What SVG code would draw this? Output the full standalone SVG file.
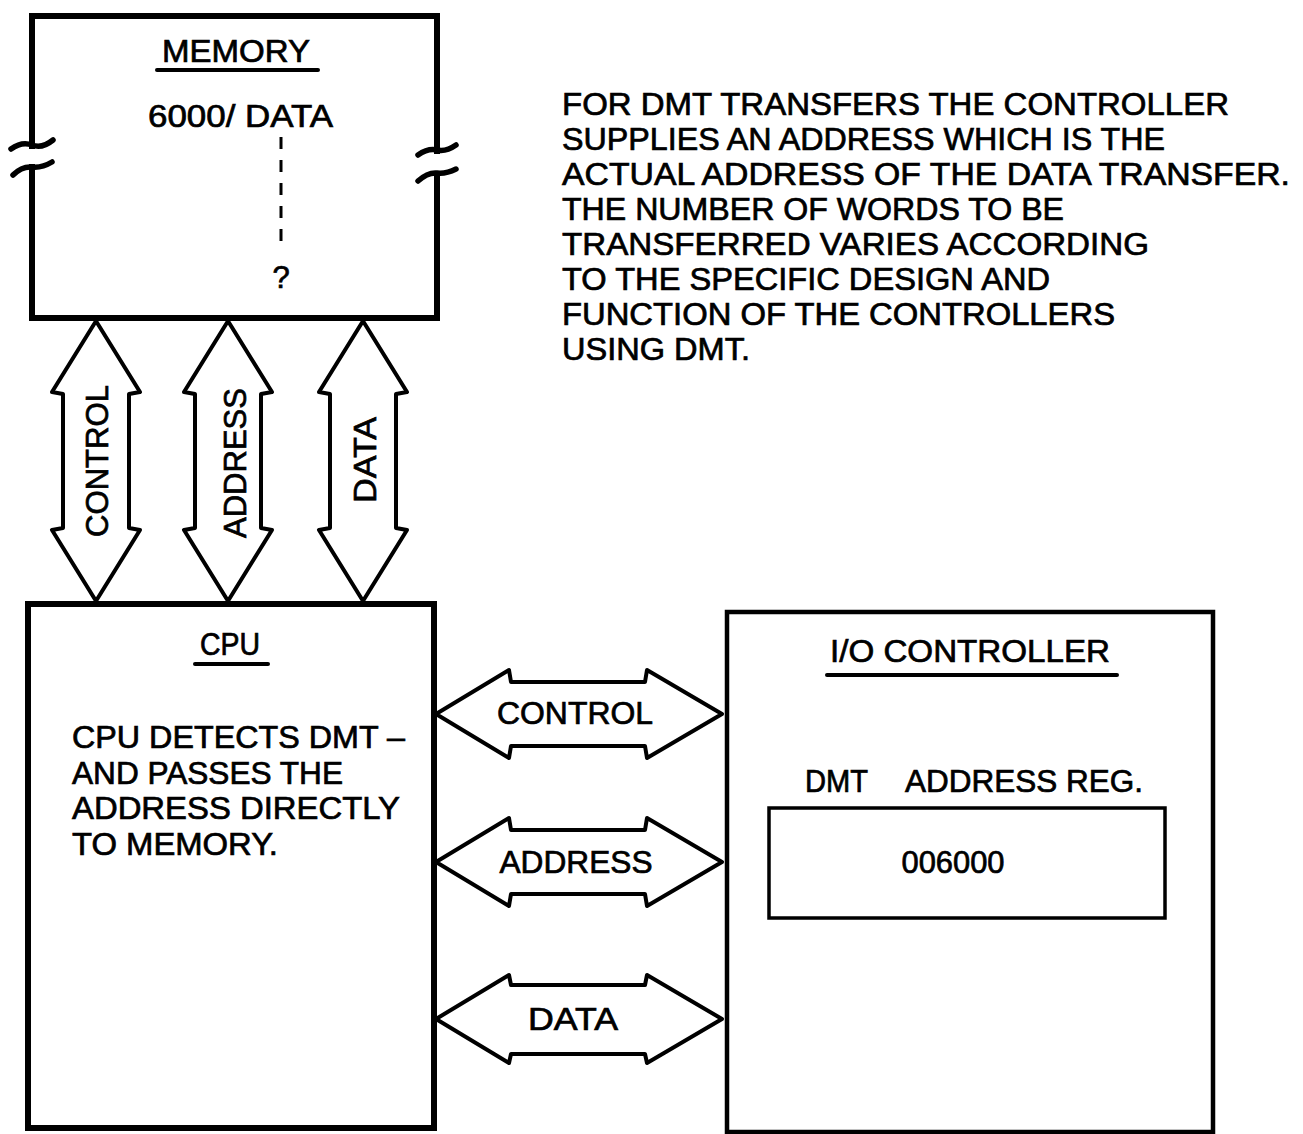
<svg xmlns="http://www.w3.org/2000/svg" width="1303" height="1134" viewBox="0 0 1303 1134">
<style>
  text { font-family: "Liberation Sans", Arial, Helvetica, sans-serif; font-size: 31px; fill: #000; stroke: #000; stroke-width: 0.7px; }
  .box { fill: none; stroke: #000; stroke-width: 6; stroke-linecap: square; stroke-linejoin: miter; }
  .thin { fill: none; stroke: #000; stroke-width: 3.5; }
  .wave { fill: none; stroke: #000; stroke-width: 5.5; stroke-linecap: round; }
  .uline { stroke: #000; stroke-width: 4; stroke-linecap: round; }
  .dash { stroke: #000; stroke-width: 3; stroke-dasharray: 12 11; }
  .arrow { fill: #fff; stroke: #000; stroke-width: 4; stroke-linejoin: round; }
  .mid { text-anchor: middle; }
</style>
<rect width="1303" height="1134" fill="#fff"/>

<g id="memory">
  <path class="box" d="M32,146 V16 H437 V151"/>
  <path class="box" d="M437,174 V318 H32 V167"/>
  <path class="wave" d="M11,149 Q22,141 32,145 T53,140"/>
  <path class="wave" d="M13,175 Q22,166 32,167 T52,162"/>
  <path class="wave" d="M418,155 Q428,148 437,150 T456,145"/>
  <path class="wave" d="M418,181 Q428,172 437,173 T456,169"/>
  <text x="236" y="62" class="mid" textLength="148" lengthAdjust="spacingAndGlyphs">MEMORY</text>
  <line class="uline" x1="157" y1="70" x2="318" y2="70"/>
  <text x="148" y="127" textLength="185" lengthAdjust="spacingAndGlyphs">6000/ DATA</text>
  <line class="dash" x1="281" y1="137" x2="281" y2="249"/>
  <text x="281" y="288" class="mid">?</text>
</g>

<g id="note">
  <text x="562" y="115" textLength="667" lengthAdjust="spacingAndGlyphs">FOR DMT TRANSFERS THE CONTROLLER</text>
  <text x="562" y="150" textLength="603" lengthAdjust="spacingAndGlyphs">SUPPLIES AN ADDRESS WHICH IS THE</text>
  <text x="562" y="185" textLength="728" lengthAdjust="spacingAndGlyphs">ACTUAL ADDRESS OF THE DATA TRANSFER.</text>
  <text x="562" y="220" textLength="502" lengthAdjust="spacingAndGlyphs">THE NUMBER OF WORDS TO BE</text>
  <text x="562" y="255" textLength="587" lengthAdjust="spacingAndGlyphs">TRANSFERRED VARIES ACCORDING</text>
  <text x="562" y="290" textLength="488" lengthAdjust="spacingAndGlyphs">TO THE SPECIFIC DESIGN AND</text>
  <text x="562" y="325" textLength="553" lengthAdjust="spacingAndGlyphs">FUNCTION OF THE CONTROLLERS</text>
  <text x="562" y="360" textLength="188" lengthAdjust="spacingAndGlyphs">USING DMT.</text>
</g>

<g id="cpu">
  <rect class="box" x="28" y="604" width="406" height="524"/>
  <text x="230" y="655" class="mid" textLength="60" lengthAdjust="spacingAndGlyphs">CPU</text>
  <line class="uline" x1="195" y1="664" x2="268" y2="664"/>
  <text x="72" y="748" textLength="333" lengthAdjust="spacingAndGlyphs">CPU DETECTS DMT –</text>
  <text x="72" y="784" textLength="271" lengthAdjust="spacingAndGlyphs">AND PASSES THE</text>
  <text x="72" y="819" textLength="328" lengthAdjust="spacingAndGlyphs">ADDRESS DIRECTLY</text>
  <text x="72" y="855" textLength="206" lengthAdjust="spacingAndGlyphs">TO MEMORY.</text>
</g>

<g id="io-controller">
  <rect class="box" x="727" y="612" width="486" height="520" style="stroke-width:4.5"/>
  <text x="970" y="662" class="mid" textLength="280" lengthAdjust="spacingAndGlyphs">I/O CONTROLLER</text>
  <line class="uline" x1="827" y1="675" x2="1117" y2="675"/>
  <text x="805" y="792" textLength="63" lengthAdjust="spacingAndGlyphs">DMT</text>
  <text x="905" y="792" textLength="238" lengthAdjust="spacingAndGlyphs">ADDRESS REG.</text>
</g>

<g id="dmt-address-reg">
  <rect class="thin" x="769" y="808" width="396" height="110"/>
  <text x="953" y="873" class="mid" textLength="103" lengthAdjust="spacingAndGlyphs">006000</text>
</g>

<g id="connectors">
  <path class="arrow" d="M96,321 L140,392 L129,394 L129,528 L140,530 L96,601 L52,530 L63,528 L63,394 L52,392 Z"/>
  <path class="arrow" d="M228,321 L272,392 L261,394 L261,528 L272,530 L228,601 L184,530 L195,528 L195,394 L184,392 Z"/>
  <path class="arrow" d="M363,321 L407,392 L396,394 L396,528 L407,530 L363,601 L319,530 L330,528 L330,394 L319,392 Z"/>
  <text transform="translate(108,461) rotate(-90)" class="mid" textLength="152" lengthAdjust="spacingAndGlyphs">CONTROL</text>
  <text transform="translate(246,463) rotate(-90)" class="mid" textLength="150" lengthAdjust="spacingAndGlyphs">ADDRESS</text>
  <text transform="translate(376,460) rotate(-90)" class="mid" textLength="86" lengthAdjust="spacingAndGlyphs">DATA</text>

  <path class="arrow" d="M436,714 L509,670 L511,682 L645,682 L647,670 L722,714 L647,758 L645,746 L511,746 L509,758 Z"/>
  <path class="arrow" d="M436,862 L509,818 L511,830 L645,830 L647,818 L722,862 L647,906 L645,894 L511,894 L509,906 Z"/>
  <path class="arrow" d="M436,1019 L509,975 L511,985 L645,985 L647,975 L722,1019 L647,1063 L645,1054 L511,1054 L509,1063 Z"/>
  <text x="575" y="724" class="mid" textLength="156" lengthAdjust="spacingAndGlyphs">CONTROL</text>
  <text x="576" y="873" class="mid" textLength="153" lengthAdjust="spacingAndGlyphs">ADDRESS</text>
  <text x="573" y="1030" class="mid" textLength="90" lengthAdjust="spacingAndGlyphs">DATA</text>
</g>
</svg>
